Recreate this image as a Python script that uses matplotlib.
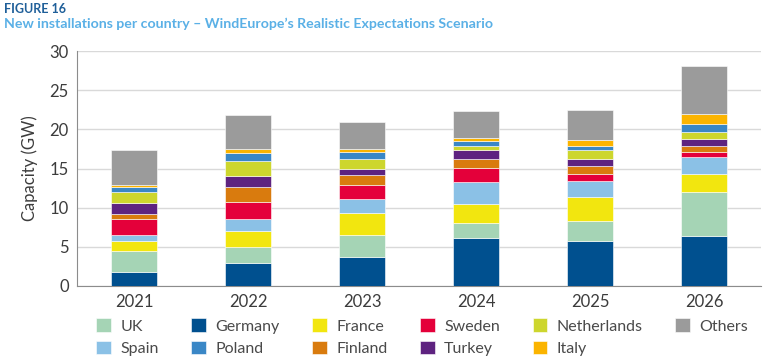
import matplotlib
matplotlib.use("Agg")
import matplotlib.pyplot as plt
import numpy as np

years = ["2021", "2022", "2023", "2024", "2025", "2026"]
germany     = [1.8, 2.95, 3.72, 6.07, 5.76, 6.44]
uk          = [2.65, 2.0, 2.82, 1.96, 2.51, 5.59]
france      = [1.33, 2.05, 2.73, 2.48, 3.07, 2.21]
spain       = [0.68, 1.5, 1.8, 2.78, 2.05, 2.22]
sweden      = [2.14, 2.22, 1.79, 1.8, 0.85, 0.68]
finland     = [0.64, 1.92, 1.29, 1.06, 1.07, 0.73]
turkey      = [1.37, 1.45, 0.85, 1.24, 0.85, 0.94]
netherlands = [1.41, 1.92, 1.2, 0.51, 1.2, 0.89]
poland      = [0.64, 0.98, 0.94, 0.6, 0.46, 0.98]
italy       = [0.26, 0.5, 0.38, 0.43, 0.82, 1.32]
others      = [4.45, 4.4, 3.42, 3.42, 3.79, 6.06]

series = [
    ("Germany", germany, "#00508f"),
    ("UK", uk, "#a5d4b5"),
    ("France", france, "#f2e60f"),
    ("Spain", spain, "#8bc1e6"),
    ("Sweden", sweden, "#e4003a"),
    ("Finland", finland, "#d97b0e"),
    ("Turkey", turkey, "#5e2380"),
    ("Netherlands", netherlands, "#cdd62e"),
    ("Poland", poland, "#3a87c6"),
    ("Italy", italy, "#fbb400"),
    ("Others", others, "#9b9b9b"),
]
legend_order = ["UK", "Spain", "Germany", "Poland", "France", "Finland",
                "Sweden", "Turkey", "Netherlands", "Italy", "Others"]

plt.rcParams['font.family'] = ['Lato', 'DejaVu Sans']
fig = plt.figure(figsize=(7.65, 3.63), dpi=100)
ax = fig.add_axes([77/765, 1-286/363, (761-77)/765, (286-51)/363])

x = np.arange(len(years))
bottom = np.zeros(len(years))
handles = {}
for name, vals, col in series:
    b = ax.bar(x, vals, bottom=bottom, width=0.4, color=col,
               edgecolor="white", linewidth=0.4, zorder=3)
    handles[name] = b
    bottom += np.array(vals)

ax.set_xlim(-0.5, 5.5)
ax.set_ylim(0, 30)
ax.set_yticks(range(0, 31, 5))
ax.set_xticks(x)
ax.set_xticklabels(years)
ax.grid(axis="y", color="#d9d9d9", linewidth=1, zorder=0)
for s in ["top", "right"]:
    ax.spines[s].set_visible(False)
ax.spines["left"].set_color("#8c8c8c")
ax.spines["bottom"].set_color("#8c8c8c")
ax.tick_params(axis="both", length=0, labelsize=12, colors="#3c3c3c", pad=6)
ax.set_ylabel("Capacity (GW)", fontsize=12, color="#3c3c3c", labelpad=8)

fig.text(0.005, 0.993, "FIGURE 16", fontsize=9, fontweight="bold",
         color="#1f5f99", va="top", ha="left")
fig.text(0.005, 0.952, "New installations per country \u2013 WindEurope\u2019s Realistic Expectations Scenario",
         fontsize=10.2, fontweight="bold", color="#5ab0e6", va="top", ha="left")

leg = fig.legend([handles[n] for n in legend_order], legend_order,
                 ncol=6, loc="lower left", bbox_to_anchor=(0.107, -0.02),
                 frameon=False, fontsize=11.5, handlelength=0.9, handleheight=0.9,
                 handletextpad=0.6, columnspacing=2.05, labelspacing=0.45)
for t in leg.get_texts():
    t.set_color("#4a4a4a")

fig.savefig("out.png", dpi=100)
